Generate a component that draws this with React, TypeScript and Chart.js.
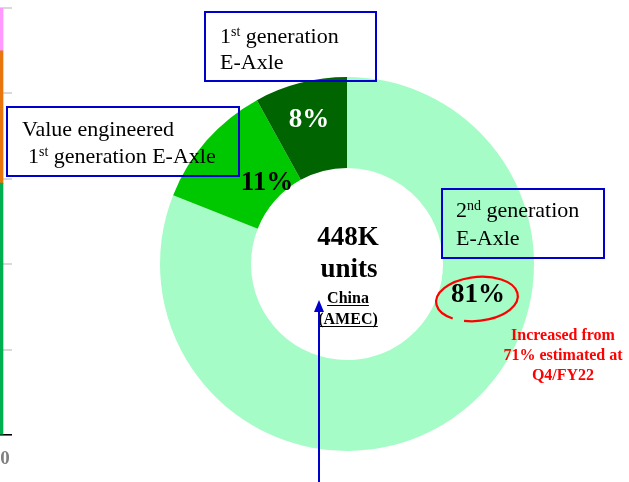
import React, { useEffect, useRef } from 'react';
import { Chart, registerables } from 'chart.js';

Chart.register(...registerables);

// ---- Doughnut data ----
const segmentLabels = ['2nd generation E-Axle', 'Value engineered 1st generation E-Axle', '1st generation E-Axle'];
const segmentShares = [81, 11, 8];
const segmentColors = ['#A6FCC6', '#00C800', '#006400'];
const percentColors = ['#000000', '#000000', '#FFFFFF'];

const centerLines = ['448K', 'units'];
const regionLines = ['China', '(AMEC)'];
const noteLines = ['Increased from', '71% estimated at', 'Q4/FY22'];

// ---- Partial stacked bar at left edge ----
const sideCategories = ['0'];
const sideGreen = [59];
const sideOrange = [31];
const sidePink = [10];
const sideTickStep = 20;

const SERIF = '"Liberation Serif", "Times New Roman", serif';

// annotation layout (pixel anchors for labels/callouts)
const percentAnchors = [
  [478, 302],
  [267, 190],
  [309, 127],
];

function drawSupLine(ctx: CanvasRenderingContext2D, x: number, y: number, pre: string, sup: string, post: string, size: number) {
  ctx.font = `${size}px ${SERIF}`;
  ctx.fillText(pre, x, y);
  let cx = x + ctx.measureText(pre).width;
  const supSize = Math.round(size * 0.64);
  ctx.font = `${supSize}px ${SERIF}`;
  ctx.fillText(sup, cx, y - 7);
  cx += ctx.measureText(sup).width;
  ctx.font = `${size}px ${SERIF}`;
  ctx.fillText(post, cx, y);
}

function drawBox(ctx: CanvasRenderingContext2D, x1: number, y1: number, x2: number, y2: number) {
  ctx.strokeStyle = '#0000CC';
  ctx.lineWidth = 2;
  ctx.strokeRect(x1, y1, x2 - x1, y2 - y1);
}

const overlayPlugin = {
  id: 'overlay',
  afterDraw(chart: any) {
    const ctx: CanvasRenderingContext2D = chart.ctx;
    ctx.save();
    ctx.textBaseline = 'alphabetic';

    // percent labels
    ctx.textAlign = 'center';
    ctx.font = `bold 27px ${SERIF}`;
    segmentShares.forEach((v, i) => {
      ctx.fillStyle = percentColors[i];
      ctx.fillText(`${v}%`, percentAnchors[i][0], percentAnchors[i][1]);
    });

    // center text
    ctx.fillStyle = '#000';
    ctx.font = `bold 27px ${SERIF}`;
    ctx.fillText(centerLines[0], 348, 245);
    ctx.fillText(centerLines[1], 349, 277);
    ctx.font = `bold 16px ${SERIF}`;
    const regionBase = [303, 324];
    regionLines.forEach((t, i) => {
      ctx.fillText(t, 348, regionBase[i]);
      const w = ctx.measureText(t).width;
      ctx.strokeStyle = '#000';
      ctx.lineWidth = 1;
      ctx.beginPath();
      ctx.moveTo(348 - w / 2, regionBase[i] + 2.5);
      ctx.lineTo(348 + w / 2, regionBase[i] + 2.5);
      ctx.stroke();
    });

    // red note
    ctx.fillStyle = '#FF0000';
    ctx.font = `bold 16px ${SERIF}`;
    noteLines.forEach((t, i) => ctx.fillText(t, 563, 340 + i * 20));

    // red ellipse around 81%
    ctx.strokeStyle = '#FF0000';
    ctx.lineWidth = 2.2;
    ctx.beginPath();
    ctx.ellipse(477, 299, 41, 22, -0.1, Math.PI * 0.72, Math.PI * 2.62);
    ctx.stroke();

    // callout boxes
    ctx.textAlign = 'left';
    ctx.fillStyle = '#000';
    drawBox(ctx, 205, 12, 376, 81);
    drawSupLine(ctx, 220, 43, '1', 'st', ' generation', 22);
    ctx.font = `22px ${SERIF}`;
    ctx.fillText('E-Axle', 220, 69);

    drawBox(ctx, 7, 107, 239, 176);
    ctx.font = `22px ${SERIF}`;
    ctx.fillText('Value engineered', 22, 136);
    drawSupLine(ctx, 28, 163, '1', 'st', ' generation E-Axle', 22);

    drawBox(ctx, 442, 189, 604, 258);
    drawSupLine(ctx, 456, 217, '2', 'nd', ' generation', 22);
    ctx.font = `22px ${SERIF}`;
    ctx.fillText('E-Axle', 456, 245);

    // blue arrow
    ctx.strokeStyle = '#0000CC';
    ctx.fillStyle = '#0000CC';
    ctx.lineWidth = 2;
    ctx.beginPath();
    ctx.moveTo(319, 482);
    ctx.lineTo(319, 310);
    ctx.stroke();
    ctx.beginPath();
    ctx.moveTo(319, 300);
    ctx.lineTo(314, 312);
    ctx.lineTo(324, 312);
    ctx.closePath();
    ctx.fill();

    ctx.restore();
  },
};

export default function App() {
  const mainRef = useRef<HTMLCanvasElement>(null);
  const sideRef = useRef<HTMLCanvasElement>(null);

  useEffect(() => {
    const side = new Chart(sideRef.current as HTMLCanvasElement, {
      type: 'bar',
      data: {
        labels: sideCategories,
        datasets: [
          { data: sideGreen, backgroundColor: '#00B050', barThickness: 6 },
          { data: sideOrange, backgroundColor: '#E8760E', barThickness: 6 },
          { data: sidePink, backgroundColor: '#FF99FF', barThickness: 6 },
        ],
      },
      options: {
        animation: false,
        responsive: false,
        maintainAspectRatio: false,
        layout: { padding: { top: 8, bottom: 0, left: 0, right: 0 } },
        plugins: { legend: { display: false }, tooltip: { enabled: false } },
        scales: {
          x: {
            stacked: true,
            grid: { display: false, drawTicks: false },
            border: { display: true, color: '#000000', width: 1.5 },
            ticks: {
              padding: 12,
              labelOffset: 5,
              color: '#808080',
              font: { family: SERIF, size: 19, weight: 'bold' },
              maxRotation: 0,
              autoSkip: false,
            },
          },
          y: {
            stacked: true,
            min: 0,
            max: 100,
            ticks: { display: false, stepSize: sideTickStep },
            grid: { color: '#D9D9D9', drawTicks: false, lineWidth: 2 },
            border: { display: false },
          },
        },
      } as any,
    });

    const main = new Chart(mainRef.current as HTMLCanvasElement, {
      type: 'doughnut',
      data: {
        labels: segmentLabels,
        datasets: [
          {
            data: segmentShares,
            backgroundColor: segmentColors,
            borderWidth: 0,
            hoverOffset: 0,
          },
        ],
      },
      options: {
        animation: false,
        responsive: false,
        maintainAspectRatio: false,
        cutout: 96,
        rotation: 0,
        circumference: 360,
        layout: { padding: { left: 160, right: 95, top: 77, bottom: 31 } },
        plugins: { legend: { display: false }, tooltip: { enabled: false } },
      } as any,
      plugins: [overlayPlugin],
    });

    return () => {
      side.destroy();
      main.destroy();
    };
  }, []);

  return (
    <div style={{ position: 'fixed', left: 0, top: 0, width: 629, height: 482, overflow: 'hidden', background: '#fff' }}>
      <div style={{ position: 'absolute', left: 0, top: 0, width: 12, height: 482, overflow: 'hidden' }}>
        <canvas
          ref={sideRef}
          width={200}
          height={482}
          style={{ position: 'absolute', left: -100, top: 0, width: 200, height: 482 }}
        />
      </div>
      <canvas
        ref={mainRef}
        width={629}
        height={482}
        style={{ position: 'absolute', left: 0, top: 0, width: 629, height: 482 }}
      />
    </div>
  );
}
